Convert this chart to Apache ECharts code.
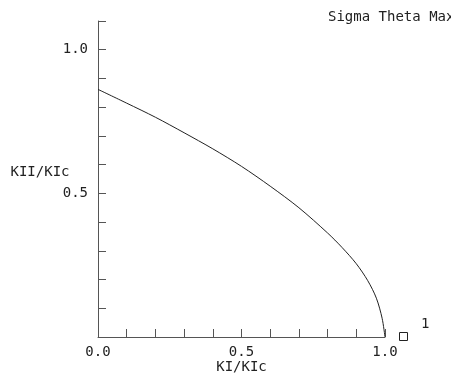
<!DOCTYPE html>
<html>
<head>
<meta charset="utf-8">
<script src="https://cdn.jsdelivr.net/npm/echarts@6/dist/echarts.min.js"></script>
<style>
  html, body { margin: 0; padding: 0; background: #fff; }
  #chart { width: 451px; height: 373px; }
</style>
</head>
<body>
<div id="chart"></div>
<script>
// failure locus
var kI = [0, 0.1, 0.2, 0.3, 0.4, 0.5, 0.6, 0.7, 0.8, 0.85, 0.9, 0.94, 0.97, 0.99, 1.0]
var kII = [0.862, 0.814, 0.765, 0.711, 0.655, 0.594, 0.525, 0.450, 0.362, 0.312, 0.255, 0.196, 0.135, 0.065, 0]
var xLabelValues = [0, 0.5, 1.0]
var yLabelValues = [0.5, 1.0]
var seriesName = '1'

var font = 'DejaVu Sans Mono'
var txt = '#222'
var axisColor = '#555'

function pick(list) {
  return function(v) {
    for (var i = 0; i < list.length; i++) {
      if (Math.abs(v - list[i]) < 1e-6) return list[i].toFixed(1)
    }
    return ''
  }
}

var points = kI.map(function(x, i) { return [x, kII[i]] })

var chart = echarts.init(document.getElementById('chart'), null, { renderer: 'canvas' })
chart.setOption({
  animation: false,
  backgroundColor: '#fff',
  textStyle: { fontFamily: font },
  title: {
    text: 'Sigma Theta Max',
    left: 328,
    top: 10,
    padding: 0,
    textStyle: { fontFamily: font, fontSize: 14, fontWeight: 'normal', color: txt }
  },
  legend: [{
    // the hollow square
    left: 399,
    top: 332,
    itemWidth: 8,
    itemHeight: 8,
    padding: 0,
    selectedMode: false,
    formatter: function() { return '' },
    data: [{
      name: seriesName,
      icon: 'rect',
      itemStyle: { color: '#fff', borderColor: '#222', borderWidth: 1 }
    }]
  }, {
    // its label, sits higher
    left: 416,
    top: 317,
    itemWidth: 0,
    itemHeight: 8,
    padding: 0,
    selectedMode: false,
    data: [{ name: seriesName, icon: 'none' }],
    textStyle: { fontFamily: font, fontSize: 14, color: txt }
  }],
  grid: { left: 98, right: 66, top: 21, bottom: 36, outerBoundsMode: 'none' },
  xAxis: {
    type: 'value',
    min: 0,
    max: 1.0,
    interval: 0.1,
    name: 'KI/KIc',
    nameLocation: 'middle',
    nameGap: 23,
    nameMoveOverlap: false,
    nameTextStyle: { fontFamily: font, fontSize: 14, color: txt, verticalAlign: 'top' },
    axisLine: { show: true, lineStyle: { color: axisColor, width: 1 } },
    axisTick: { show: true, inside: true, length: 8, lineStyle: { color: axisColor } },
    axisLabel: {
      showMinLabel: true,
      showMaxLabel: true,
      margin: 8,
      fontFamily: font,
      fontSize: 14,
      color: txt,
      formatter: pick(xLabelValues)
    },
    splitLine: { show: false }
  },
  yAxis: {
    type: 'value',
    min: 0,
    max: 1.1,
    interval: 0.1,
    name: 'KII/KIc',
    nameLocation: 'middle',
    nameRotate: 0,
    nameGap: 58,
    nameMoveOverlap: false,
    nameTextStyle: { fontFamily: font, fontSize: 14, color: txt, align: 'center', verticalAlign: 'bottom' },
    axisLine: { show: true, lineStyle: { color: axisColor, width: 1 } },
    axisTick: { show: true, inside: true, length: 8, lineStyle: { color: axisColor } },
    axisLabel: {
      showMinLabel: true,
      showMaxLabel: true,
      margin: 10,
      fontFamily: font,
      fontSize: 14,
      color: txt,
      formatter: pick(yLabelValues)
    },
    splitLine: { show: false }
  },
  series: [{
    name: seriesName,
    type: 'line',
    data: points,
    smooth: 0.3,
    showSymbol: false,
    symbol: 'rect',
    lineStyle: { color: '#222', width: 1 },
    itemStyle: { color: '#222' }
  }]
})
</script>
</body>
</html>
